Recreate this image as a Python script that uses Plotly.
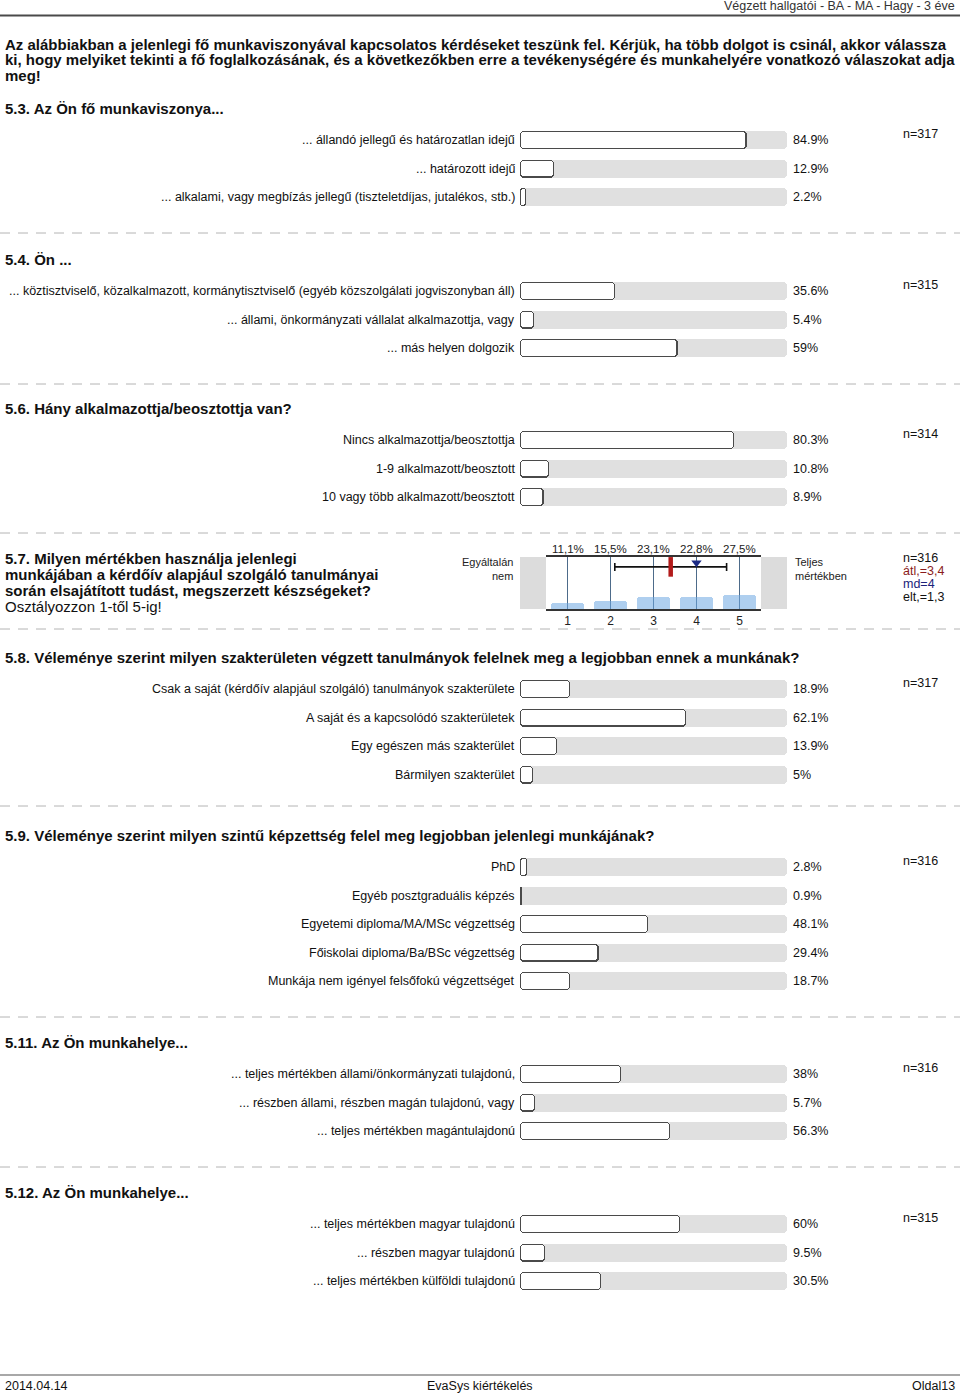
import plotly.graph_objects as go

W, H = 960, 1395
FONT = "Liberation Sans, Arial, sans-serif"

# ---------------- text ----------------
header_text = "Végzett hallgatói - BA - MA - Hagy - 3 éve"
intro_lines = [
    "Az alábbiakban a jelenlegi fő munkaviszonyával kapcsolatos kérdéseket teszünk fel. Kérjük, ha több dolgot is csinál, akkor válassza",
    "ki, hogy melyiket tekinti a fő foglalkozásának, és a következőkben erre a tevékenységére és munkahelyére vonatkozó válaszokat adja",
    "meg!",
]
footer_left = "2014.04.14"
footer_center = "EvaSys kiértékelés"
footer_right = "Oldal13"

# ---------------- data ----------------
q53_title = "5.3. Az Ön fő munkaviszonya..."
q53_labels = ["... állandó jellegű és határozatlan idejű",
              "... határozott idejű",
              "... alkalami, vagy megbízás jellegű (tiszteletdíjas, jutalékos, stb.)"]
q53_values = [84.9, 12.9, 2.2]
q53_n = 317

q54_title = "5.4. Ön ..."
q54_labels = ["... köztisztviselő, közalkalmazott, kormánytisztviselő (egyéb közszolgálati jogviszonyban áll)",
              "... állami, önkormányzati vállalat alkalmazottja, vagy",
              "... más helyen dolgozik"]
q54_values = [35.6, 5.4, 59]
q54_n = 315

q56_title = "5.6. Hány alkalmazottja/beosztottja van?"
q56_labels = ["Nincs alkalmazottja/beosztottja",
              "1-9 alkalmazott/beosztott",
              "10 vagy több alkalmazott/beosztott"]
q56_values = [80.3, 10.8, 8.9]
q56_n = 314

q57_title_lines = ["5.7. Milyen mértékben használja jelenlegi",
                   "munkájában a kérdőív alapjául szolgáló tanulmányai",
                   "során elsajátított tudást, megszerzett készségeket?"]
q57_subtitle = "Osztályozzon 1-től 5-ig!"
q57_scale = [1, 2, 3, 4, 5]
q57_pcts = [11.1, 15.5, 23.1, 22.8, 27.5]
q57_left = "Egyáltalán<br>nem"
q57_right = "Teljes<br>mértékben"
q57_n = 316
q57_mean = 3.4
q57_md = 4
q57_sd = 1.3

q58_title = "5.8. Véleménye szerint milyen szakterületen végzett tanulmányok felelnek meg a legjobban ennek a munkának?"
q58_labels = ["Csak a saját (kérdőív alapjául szolgáló) tanulmányok szakterülete",
              "A saját és a kapcsolódó szakterületek",
              "Egy egészen más szakterület",
              "Bármilyen szakterület"]
q58_values = [18.9, 62.1, 13.9, 5]
q58_n = 317

q59_title = "5.9. Véleménye szerint milyen szintű képzettség felel meg legjobban jelenlegi munkájának?"
q59_labels = ["PhD",
              "Egyéb posztgraduális képzés",
              "Egyetemi diploma/MA/MSc végzettség",
              "Főiskolai diploma/Ba/BSc végzettség",
              "Munkája nem igényel felsőfokú végzettséget"]
q59_values = [2.8, 0.9, 48.1, 29.4, 18.7]
q59_n = 316

q511_title = "5.11. Az Ön munkahelye..."
q511_labels = ["... teljes mértékben állami/önkormányzati tulajdonú,",
               "... részben állami, részben magán tulajdonú, vagy",
               "... teljes mértékben magántulajdonú"]
q511_values = [38, 5.7, 56.3]
q511_n = 316

q512_title = "5.12. Az Ön munkahelye..."
q512_labels = ["... teljes mértékben magyar tulajdonú",
               "... részben magyar tulajdonú",
               "... teljes mértékben külföldi tulajdonú"]
q512_values = [60, 9.5, 30.5]
q512_n = 315

# ---------------- layout (page positions in px) ----------------
sections = [
    (q53_title, q53_labels, q53_values, q53_n, 108),
    (q54_title, q54_labels, q54_values, q54_n, 259),
    (q56_title, q56_labels, q56_values, q56_n, 408),
    (q58_title, q58_labels, q58_values, q58_n, 657),
    (q59_title, q59_labels, q59_values, q59_n, 835),
    (q511_title, q511_labels, q511_values, q511_n, 1042),
    (q512_title, q512_labels, q512_values, q512_n, 1192),
]
separators_y = [233, 384, 533, 629, 806, 1017, 1167]
ROW_STEP = 28.5
FIRST_ROW = 32
BAR_X0, BAR_X1 = 520, 787
LABEL_X = 516
PCT_X = 792
N_X = 902
TOP57, BOT57 = 557, 609
PLOT57_X0, PLOT57_X1 = 546, 761
UNIT_PER_PX = 100.0 / (BAR_X1 - BAR_X0)


def px(x):
    return x / W


def fmt_pct(v):
    return f"{v:g}%"


fig = go.Figure()
annotations = []
shapes = []


def ann(x, y, text, size=12.5, xanchor="left", color="#111", xref="paper", yref="y"):
    annotations.append(dict(x=px(x) if xref == "paper" else x, y=y, xref=xref, yref=yref,
                            text=text, showarrow=False, xanchor=xanchor, yanchor="middle",
                            font=dict(family=FONT, size=size, color=color),
                            borderpad=0, align="left" if xanchor == "left" else "right"))


def add_pill_bars(ys, lengths, inset, height, color, radius):
    """Horizontal bars rounded at both ends: each bar is drawn as two
    overlapping halves growing outward from its centre, so that plotly's
    corner rounding (applied at the far end) lands on both ends."""
    eps_max = 2.2 * radius * UNIT_PER_PX
    yy, left_x, left_b, right_x, right_b = [], [], [], [], []
    for y, l in zip(ys, lengths):
        c = l / 2.0
        h = c - inset
        if h <= 0:
            continue
        e = min(eps_max, h)
        yy.append(y)
        left_b.append(c + e)
        left_x.append(-(h + e))
        right_b.append(c - e)
        right_x.append(h + e)
    for xs, bs in ((left_x, left_b), (right_x, right_b)):
        fig.add_trace(go.Bar(
            y=yy, x=xs, base=bs, orientation="h", width=height,
            marker=dict(color=color, line=dict(width=0), cornerradius=radius),
            xaxis="x", yaxis="y", hoverinfo="skip", showlegend=False))


row_y, row_vals = [], []
for title, labels, values, n, ty in sections:
    ann(4, ty, f"<b>{title}</b>", size=15)
    for i, (lab, v) in enumerate(zip(labels, values)):
        y = ty + FIRST_ROW + i * ROW_STEP
        row_y.append(y)
        row_vals.append(v)
        ann(LABEL_X, y, lab, xanchor="right")
        ann(PCT_X, y, fmt_pct(v))
    ann(N_X, ty + FIRST_ROW - 6, f"n={n}")

# grey 100% tracks
add_pill_bars(row_y, [100] * len(row_y), 0, 18, "#e0e0e0", 4)
# value bars: dark outline + white inside
add_pill_bars(row_y, row_vals, 0, 18, "#4a4a4a", 4)
add_pill_bars(row_y, row_vals, 1.3 * UNIT_PER_PX, 15.4, "#ffffff", 3)

# ---------------- question 5.7 ----------------
for i, line in enumerate(q57_title_lines):
    ann(4, 558 + 16 * i, f"<b>{line}</b>", size=15)
ann(4, 606, q57_subtitle, size=15)

fig.add_trace(go.Bar(
    x=q57_scale, y=q57_pcts, width=0.78,
    marker=dict(color="rgba(110,168,225,0.55)", line=dict(width=0), cornerradius=3),
    xaxis="x2", yaxis="y2", hoverinfo="skip", showlegend=False))
# mean +- sd
fig.add_trace(go.Scatter(
    x=[q57_mean], y=[81], mode="markers",
    error_x=dict(type="data", array=[q57_sd], color="#111111", thickness=1.6, width=4),
    marker=dict(symbol="line-ns", size=14, line=dict(width=4.5, color="#b31b1b")),
    xaxis="x2", yaxis="y2", hoverinfo="skip", showlegend=False))
# median
fig.add_trace(go.Scatter(
    x=[q57_md], y=[89], mode="markers",
    marker=dict(symbol="triangle-down", size=9, color="#1b2a85"),
    xaxis="x2", yaxis="y2", hoverinfo="skip", showlegend=False))

for s, p in zip(q57_scale, q57_pcts):
    annotations.append(dict(x=s, y=549, xref="x2", yref="y", showarrow=False,
                            text=f"{p:.1f}%".replace(".", ","), xanchor="center", yanchor="middle",
                            font=dict(family=FONT, size=11.5, color="#222")))
for x0, x1 in [(BAR_X0, PLOT57_X0), (PLOT57_X1, BAR_X1)]:
    shapes.append(dict(type="rect", xref="paper", yref="y", x0=px(x0), x1=px(x1),
                       y0=TOP57, y1=BOT57, fillcolor="#dcdcdc", line=dict(width=0), layer="below"))
annotations.append(dict(x=px(515), y=569, xref="paper", yref="y", showarrow=False, text=q57_left,
                        xanchor="right", yanchor="middle", align="right",
                        font=dict(family=FONT, size=11, color="#222")))
annotations.append(dict(x=px(793), y=569, xref="paper", yref="y", showarrow=False, text=q57_right,
                        xanchor="left", yanchor="middle", align="left",
                        font=dict(family=FONT, size=11, color="#222")))
stats = [(f"n={q57_n}", "#111"),
         (f"átl.={q57_mean:.1f}".replace(".", ","), "#8b1c1c"),
         (f"md={q57_md}", "#1b237a"),
         (f"elt.={q57_sd:.1f}".replace(".", ","), "#111")]
for i, (t, c) in enumerate(stats):
    ann(N_X, 558 + 13 * i, t, size=12.5, color=c)

# ---------------- header / intro / footer ----------------
ann(956, 6, header_text, size=12.5, xanchor="right", color="#333")
shapes.append(dict(type="line", xref="paper", yref="y", x0=0, x1=1, y0=15.5, y1=15.5,
                   line=dict(color="#4a4a4a", width=2)))
for i, line in enumerate(intro_lines):
    ann(4, 44 + 15.5 * i, f"<b>{line}</b>", size=15)
for y in separators_y:
    shapes.append(dict(type="line", xref="paper", yref="y", x0=0, x1=1, y0=y, y1=y,
                       line=dict(color="#b4b4b4", width=1, dash="10px,8px")))
shapes.append(dict(type="line", xref="paper", yref="y", x0=0, x1=1, y0=1375, y1=1375,
                   line=dict(color="#a8a8a8", width=2)))
ann(4, 1386, footer_left, size=12.5)
ann(480, 1386, footer_center, size=12.5, xanchor="center")
ann(956, 1386, footer_right, size=12.5, xanchor="right")

fig.update_layout(
    width=W, height=H, margin=dict(l=0, r=0, t=0, b=0),
    paper_bgcolor="white", plot_bgcolor="rgba(0,0,0,0)",
    barmode="overlay", bargap=0,
    showlegend=False,
    xaxis=dict(domain=[px(BAR_X0), px(BAR_X1)], range=[0, 100], visible=False, fixedrange=True),
    yaxis=dict(domain=[0, 1], range=[H, 0], visible=False, fixedrange=True),
    xaxis2=dict(domain=[px(PLOT57_X0), px(PLOT57_X1)], range=[0.5, 5.5], anchor="y2",
                tickvals=q57_scale, ticktext=[str(s) for s in q57_scale], ticks="",
                showgrid=True, gridcolor="#4d6b8a", gridwidth=1,
                showline=True, mirror=True, linecolor="#333333", linewidth=2,
                zeroline=False, tickfont=dict(family=FONT, size=12, color="#222"),
                fixedrange=True),
    yaxis2=dict(domain=[(H - BOT57) / H, (H - TOP57) / H], range=[0, 100], anchor="x2",
                showgrid=False, showticklabels=False, zeroline=False, showline=False,
                fixedrange=True),
    annotations=annotations,
    shapes=shapes,
)

fig.write_html("out.html")
